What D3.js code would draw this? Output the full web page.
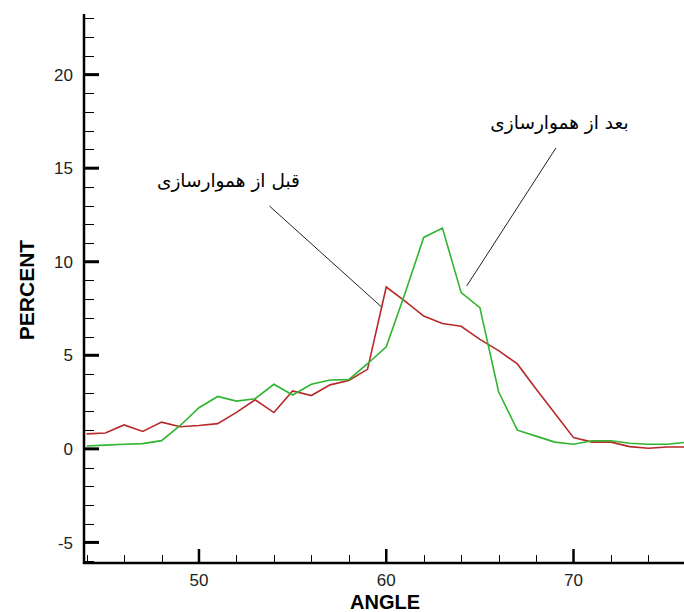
<!DOCTYPE html>
<html>
<head>
<meta charset="utf-8">
<script src="https://cdn.jsdelivr.net/npm/d3@7"></script>
<style>
  html, body { margin: 0; padding: 0; background: #fff; }
  svg { display: block; }
</style>
</head>
<body>
<svg id="chart" width="684" height="612"></svg>
<script>
// ---- data ----
const angles = [44,45,46,47,48,49,50,51,52,53,54,55,56,57,58,59,60,61,62,63,64,65,66,67,68,69,70,71,72,73,74,75,76];
const beforeSmoothing = [0.80,0.85,1.28,0.93,1.43,1.18,1.25,1.35,1.95,2.62,1.94,3.10,2.85,3.42,3.65,4.25,8.65,7.90,7.10,6.70,6.55,5.85,5.25,4.54,3.20,1.90,0.60,0.36,0.36,0.12,0.03,0.10,0.10];
const afterSmoothing  = [0.15,0.20,0.25,0.28,0.44,1.25,2.20,2.80,2.55,2.68,3.45,2.88,3.45,3.68,3.70,4.55,5.45,8.30,11.30,11.80,8.35,7.55,3.05,1.00,0.68,0.36,0.25,0.43,0.43,0.30,0.25,0.25,0.35];
const xMajorTicks = [50,60,70];
const xMinorTicks = [44,46,48,52,54,56,58,62,64,66,68,72,74];
const yMajorTicks = [-5,0,5,10,15,20];
const yMinorTicks = [-6,-4,-3,-2,-1,1,2,3,4,6,7,8,9,11,12,13,14,16,17,18,19,21,22,23];
const xTitle = "ANGLE";
const yTitle = "PERCENT";
const labelBefore = "قبل از هموارسازی";
const labelAfter = "بعد از هموارسازی";
// annotation anchors in data coords: [text x, text y, leader start x, y, leader end x, y]
const annBefore = [51.57, 14.0, 53.76, 12.98, 59.73, 7.60];
const annAfter  = [69.25, 17.1, 69.06, 16.08, 64.30, 8.71];

// ---- scales ----
const svg = d3.select("#chart");
const x = d3.scaleLinear().domain([43.86, 75.9]).range([84, 684]);
const y = d3.scaleLinear().domain([-6.1, 23.24]).range([563, 14]);

// ---- series ----
const line = d3.line().x((d,i) => x(angles[i])).y(d => y(d));
svg.append("path").datum(beforeSmoothing)
  .attr("fill","none").attr("stroke","#b8292a").attr("stroke-width",1.6).attr("d", line);
svg.append("path").datum(afterSmoothing)
  .attr("fill","none").attr("stroke","#2fb52f").attr("stroke-width",1.6).attr("d", line);

// ---- axes ----
const x0 = x.range()[0], yb = y.range()[0];
svg.append("line").attr("x1",x0).attr("x2",x0).attr("y1",y.range()[1]).attr("y2",yb+1)
  .attr("stroke","#000").attr("stroke-width",2.5);
svg.append("line").attr("x1",x0-1).attr("x2",684).attr("y1",yb).attr("y2",yb)
  .attr("stroke","#000").attr("stroke-width",2.5);

svg.selectAll(".ymin").data(yMinorTicks).enter().append("line")
  .attr("x1",x0).attr("x2",x0+10).attr("y1",d=>Math.round(y(d))+0.5).attr("y2",d=>Math.round(y(d))+0.5)
  .attr("stroke","#000").attr("stroke-width",1);
svg.selectAll(".ymaj").data(yMajorTicks).enter().append("line")
  .attr("x1",x0).attr("x2",x0+15).attr("y1",d=>y(d)).attr("y2",d=>y(d))
  .attr("stroke","#000").attr("stroke-width",3);
svg.selectAll(".xmin").data(xMinorTicks).enter().append("line")
  .attr("x1",d=>Math.round(x(d))+0.5).attr("x2",d=>Math.round(x(d))+0.5).attr("y1",yb).attr("y2",yb-8)
  .attr("stroke","#000").attr("stroke-width",1);
svg.selectAll(".xmaj").data(xMajorTicks).enter().append("line")
  .attr("x1",d=>x(d)).attr("x2",d=>x(d)).attr("y1",yb).attr("y2",yb-14)
  .attr("stroke","#000").attr("stroke-width",2.5);

const tickFont = "'Liberation Sans', Arial, sans-serif";
svg.selectAll(".ylab").data(yMajorTicks).enter().append("text")
  .attr("x", 73).attr("y", d=>y(d)).attr("dy","0.36em")
  .attr("text-anchor","end").attr("font-family",tickFont).attr("font-size",17).attr("fill","#222")
  .text(d=>d);
svg.selectAll(".xlab").data(xMajorTicks).enter().append("text")
  .attr("x", d=>x(d)).attr("y", 586)
  .attr("text-anchor","middle").attr("font-family",tickFont).attr("font-size",17).attr("fill","#222")
  .text(d=>d);

svg.append("text").attr("x", 385).attr("y", 609).attr("text-anchor","middle")
  .attr("font-family",tickFont).attr("font-weight","bold").attr("font-size",20).text(xTitle);
svg.append("text").attr("transform","translate(34,290) rotate(-90)").attr("text-anchor","middle")
  .attr("font-family",tickFont).attr("font-weight","bold").attr("font-size",21).text(yTitle);

// ---- annotations ----
function annotate(a, label){
  svg.append("line").attr("x1",x(a[2])).attr("y1",y(a[3])).attr("x2",x(a[4])).attr("y2",y(a[5]))
    .attr("stroke","#222").attr("stroke-width",1);
  svg.append("text").attr("x",x(a[0])).attr("y",y(a[1])).attr("text-anchor","middle")
    .attr("direction","rtl").attr("font-family","'DejaVu Sans', 'Noto Sans', sans-serif")
    .attr("font-size",18.5).attr("fill","#000").text(label);
}
annotate(annBefore, labelBefore);
annotate(annAfter, labelAfter);
</script>
</body>
</html>
